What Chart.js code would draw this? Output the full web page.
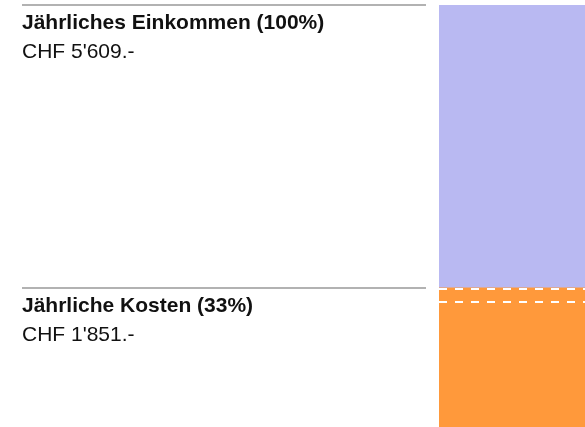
<!DOCTYPE html>
<html>
<head>
<meta charset="utf-8">
<script src="https://cdn.jsdelivr.net/npm/chart.js@4"></script>
<style>
    html, body { margin: 0; padding: 0; background: #fff; }
    #wrap { width: 585px; height: 427px; }
</style>
</head>
<body>
<div id="wrap"><canvas id="budget-chart"></canvas></div>
<script>
// values shown in the chart (CHF)
const categories = ["Budget"];
const incomeValues = [5609];
const costValues = [1851];
const markerValues = [1851, 1670];
const labelTitles = ["Jährliches Einkommen (100%)", "Jährliche Kosten (33%)"];
const labelAmounts = ["CHF 5'609.-", "CHF 1'851.-"];

const remainderValues = incomeValues.map((v, i) => v - costValues[i]);

// white dashed marker lines across the bar
const markerLines = {
    id: "markerLines",
    afterDatasetsDraw(chart) {
        const { ctx, chartArea, scales } = chart;
        ctx.save();
        ctx.strokeStyle = "#ffffff";
        ctx.lineWidth = 2;
        ctx.setLineDash([8, 8]);
        markerValues.forEach(v => {
            const y = Math.round(scales.y.getPixelForValue(v)) + 1;
            ctx.beginPath();
            ctx.moveTo(chartArea.left, y);
            ctx.lineTo(chartArea.right, y);
            ctx.stroke();
        });
        ctx.restore();
    }
};

// grey rules and text labels on the left side
const sideLabels = {
    id: "sideLabels",
    afterDraw(chart) {
        const { ctx, chartArea, scales } = chart;
        const tops = [incomeValues[0], costValues[0]];
        ctx.save();
        tops.forEach((v, i) => {
            const y = Math.round(scales.y.getPixelForValue(v));
            ctx.strokeStyle = "#999999";
            ctx.lineWidth = 1.5;
            ctx.setLineDash([]);
            ctx.beginPath();
            ctx.moveTo(22, y);
            ctx.lineTo(chartArea.left - 13, y);
            ctx.stroke();

            ctx.fillStyle = "#111111";
            ctx.textBaseline = "alphabetic";
            ctx.font = "bold 21px 'Liberation Sans', Arial, sans-serif";
            ctx.fillText(labelTitles[i], 22, y + 24);
            ctx.font = "21px 'Liberation Sans', Arial, sans-serif";
            ctx.fillText(labelAmounts[i], 22, y + 53);
        });
        ctx.restore();
    }
};

new Chart(document.getElementById("budget-chart"), {
    type: "bar",
    data: {
        labels: categories,
        datasets: [
            {
                label: "Kosten",
                data: costValues,
                backgroundColor: "#ff993b",
                barPercentage: 1,
                categoryPercentage: 1
            },
            {
                label: "Einkommen",
                data: remainderValues,
                backgroundColor: "#b9b9f2",
                barPercentage: 1,
                categoryPercentage: 1
            }
        ]
    },
    options: {
        responsive: true,
        maintainAspectRatio: false,
        animation: false,
        layout: { padding: { left: 439, top: 5, right: 0, bottom: 0 } },
        plugins: {
            legend: { display: false },
            tooltip: { enabled: false }
        },
        scales: {
            x: { stacked: true, display: false },
            y: { stacked: true, display: false, min: 0, max: 5609 }
        }
    },
    plugins: [markerLines, sideLabels]
});
</script>
</body>
</html>
